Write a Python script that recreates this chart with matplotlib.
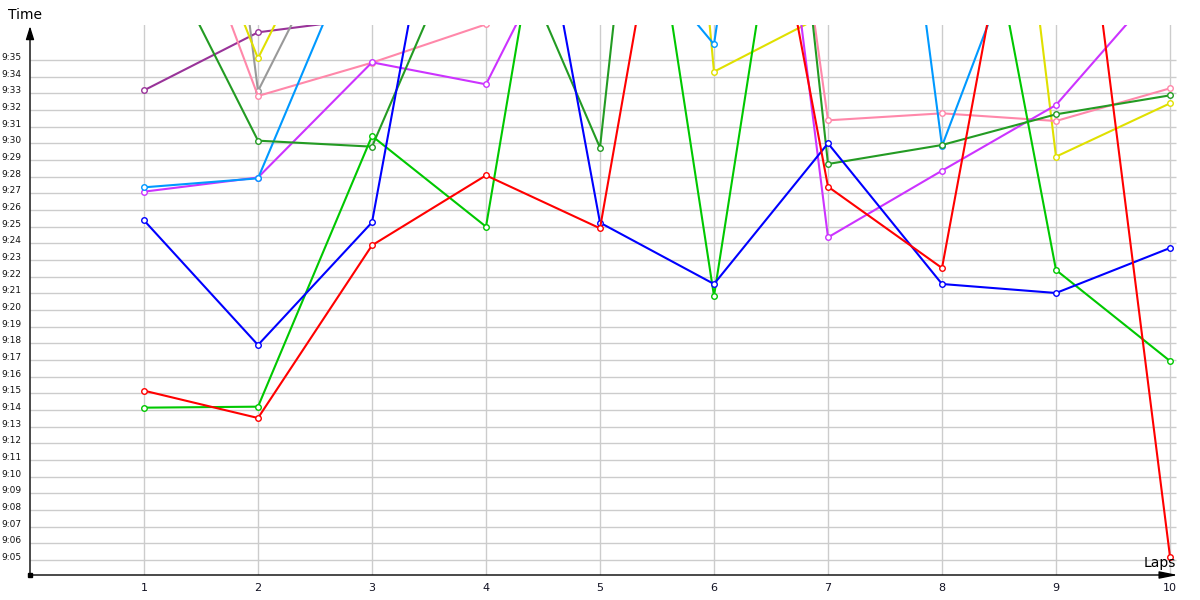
import numpy as np
import matplotlib
matplotlib.use('Agg')
import matplotlib.pyplot as plt
from matplotlib.ticker import FuncFormatter

laps = [1, 2, 3, 4, 5, 6, 7, 8, 9, 10]
nan = np.nan

red = [555.16, 553.52, 563.88, 568.08, 564.9, 603.8, 567.4, 562.52, 599.4, 545.2]
blue = [565.38, 557.9, 565.26, 602.3, 565.24, 561.56, 570.0, 561.56, 561.02, 563.72]
green = [554.14, 554.2, 570.44, 565.0, 605.4, 560.84, 604.55, 598.4, 562.4, 556.94]
dark_green = [583.68, 570.16, 569.8, 585.62, 569.74, 632.0, 568.76, 569.9, 571.74, 572.88]
light_blue = [567.36, 567.9, 584.1, 585.0, 584.18, 575.94, 622.3, 569.84, 587.9, nan]
magenta = [567.1, 567.95, 574.86, 573.54, 587.06, 618.95, 564.36, 568.36, 572.3, 580.12]
pink = [591.1, 572.84, 574.84, 577.14, 590.0, 620.7, 571.38, 571.8, 571.34, 573.3]
yellow = [592.25, 575.1, 588.73, 590.0, 648.0, 574.3, 577.82, 625.7, 569.2, 572.4]
gray = [627.5, 573.14, 586.68, nan, nan, nan, nan, nan, nan, nan]
purple = [573.18, 576.66, 577.54, nan, nan, nan, nan, nan, nan, nan]

y_ticks = list(range(545, 576))

series = [
    (purple, '#993399'),
    (gray, '#999999'),
    (yellow, '#e0e000'),
    (pink, '#ff88aa'),
    (magenta, '#cc33ff'),
    (light_blue, '#0099ff'),
    (dark_green, '#239b23'),
    (green, '#00c800'),
    (blue, '#0000ff'),
    (red, '#ff0000'),
]


def mmss(v, pos=None):
    v = int(round(v))
    return f"{v // 60}:{v % 60:02d}"


fig = plt.figure(figsize=(12, 6), dpi=100)
ax = fig.add_axes([30 / 1200, 25 / 600, 1151.4 / 1200, 550 / 600])
ax.set_xlim(0, 10.1)
ax.set_ylim(544.1, 577.1)

# grid
ax.set_axisbelow(True)
ax.set_xticks(laps)
ax.set_yticks(y_ticks)
ax.grid(axis='x', color='#cccccc', lw=1)
ax.hlines(y_ticks, 0, 10.05, color='#cccccc', lw=1, zorder=0.5)

for vals, col in series:
    ax.plot(laps, vals, color=col, lw=1.5, marker='o', ms=4,
            mfc='white', mec=col, mew=1)

for s in ax.spines.values():
    s.set_visible(False)

ax.yaxis.set_major_formatter(FuncFormatter(mmss))
ax.tick_params(axis='y', length=0, pad=6, labelsize=6.5, labelcolor='#111111')
ax.tick_params(axis='x', length=0, pad=6, labelsize=8, labelcolor='#111122')
plt.setp(ax.get_yticklabels(), va='baseline')

# axis arrows
ax.annotate('', xy=(0.997, 0), xytext=(0, 0), xycoords='axes fraction',
            arrowprops=dict(arrowstyle='-|>,head_length=1.1,head_width=0.22',
                            color='black', lw=1, shrinkA=0, shrinkB=0))
ax.annotate('', xy=(0, 0.998), xytext=(0, 0), xycoords='axes fraction',
            arrowprops=dict(arrowstyle='-|>,head_length=0.8,head_width=0.25',
                            color='black', lw=1, shrinkA=0, shrinkB=0))
ax.plot(0, 544.1, marker='s', ms=2.5, color='black', clip_on=False)

fig.text(8 / 1200, 1 - 15 / 600, 'Time', fontsize=10, ha='left', va='center')
fig.text(1176 / 1200, 1 - 563 / 600, 'Laps', fontsize=10, ha='right', va='center')

fig.savefig('out.png', dpi=100)
